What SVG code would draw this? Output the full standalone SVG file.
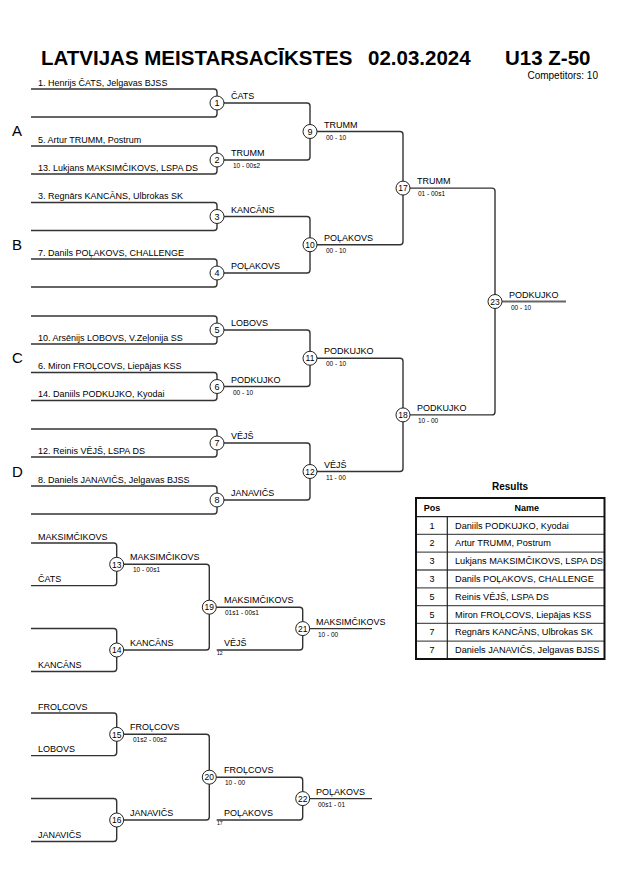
<svg xmlns="http://www.w3.org/2000/svg" width="630" height="891" viewBox="0 0 630 891">
<style>
text{font-family:"Liberation Sans",Arial,sans-serif;fill:#000}
.t{font-size:20.5px;font-weight:bold}
.n{font-size:9px}
.w{font-size:9px}
.s{font-size:6.5px}
.xs{font-size:5px}
.p{font-size:15px}
.num{font-size:9px;text-anchor:middle}
.ln{fill:none;stroke:#333;stroke-width:1.4}
.c{fill:#fff;stroke:#222;stroke-width:1}
.h{font-size:9px;font-weight:bold;text-anchor:middle}
.rc{font-size:9px;text-anchor:middle}
.rn{font-size:9.2px}
.row{stroke:#555;stroke-width:1.3}
</style>
<rect width="630" height="891" fill="#fff"/>
<g id="title">
<text class="t" x="41" y="65">LATVIJAS MEISTARSACĪKSTES</text>
<text class="t" x="368" y="65">02.03.2024</text>
<text class="t" x="505" y="65">U13 Z-50</text>
<text x="598" y="79" style="font-size:10px" text-anchor="end">Competitors: 10</text>
</g>
<g id="pools">
<text class="p" x="12" y="136">A</text>
<text class="p" x="12" y="250">B</text>
<text class="p" x="12" y="363">C</text>
<text class="p" x="12" y="477">D</text>
</g>
<g id="connectors">
<path class="ln" d="M31,89 H214 Q217,89 217,92 V114 Q217,117 214,117 H31"/>
<path class="ln" d="M31,146 H214 Q217,146 217,149 V171 Q217,174 214,174 H31"/>
<path class="ln" d="M31,202.5 H214 Q217,202.5 217,205.5 V227.5 Q217,230.5 214,230.5 H31"/>
<path class="ln" d="M31,259 H214 Q217,259 217,262 V284 Q217,287 214,287 H31"/>
<path class="ln" d="M31,316 H214 Q217,316 217,319 V341 Q217,344 214,344 H31"/>
<path class="ln" d="M31,372.5 H214 Q217,372.5 217,375.5 V397.5 Q217,400.5 214,400.5 H31"/>
<path class="ln" d="M31,429 H214 Q217,429 217,432 V454 Q217,457 214,457 H31"/>
<path class="ln" d="M31,486 H214 Q217,486 217,489 V511 Q217,514 214,514 H31"/>
<path class="ln" d="M217,103 H307 Q310,103 310,106 V157 Q310,160 307,160 H217"/>
<path class="ln" d="M217,216.5 H307 Q310,216.5 310,219.5 V270 Q310,273 307,273 H217"/>
<path class="ln" d="M217,330 H307 Q310,330 310,333 V383.5 Q310,386.5 307,386.5 H217"/>
<path class="ln" d="M217,443 H307 Q310,443 310,446 V497 Q310,500 307,500 H217"/>
<path class="ln" d="M310,131.5 H400 Q403,131.5 403,134.5 V241.75 Q403,244.75 400,244.75 H310"/>
<path class="ln" d="M310,358.25 H400 Q403,358.25 403,361.25 V468.5 Q403,471.5 400,471.5 H310"/>
<path class="ln" d="M403,188.1 H492 Q495,188.1 495,191.1 V411.9 Q495,414.9 492,414.9 H403"/>
<path class="ln" d="M495,301.5 H566" style="stroke:#666;stroke-width:2"/>
<path class="ln" d="M31,543 H113.7 Q116.7,543 116.7,546 V582.6 Q116.7,585.6 113.7,585.6 H31"/>
<path class="ln" d="M31,628.5 H113.7 Q116.7,628.5 116.7,631.5 V668.5 Q116.7,671.5 113.7,671.5 H31"/>
<path class="ln" d="M116.7,564.3 H206.3 Q209.3,564.3 209.3,567.3 V647 Q209.3,650 206.3,650 H116.7"/>
<path class="ln" d="M209.3,607.2 H299.7 Q302.7,607.2 302.7,610.2 V647 Q302.7,650 299.7,650 H216.7"/>
<path class="ln" d="M302.7,628.6 H372"/>
<path class="ln" d="M31,713 H113.7 Q116.7,713 116.7,716 V752.6 Q116.7,755.6 113.7,755.6 H31"/>
<path class="ln" d="M31,798.5 H113.7 Q116.7,798.5 116.7,801.5 V838.5 Q116.7,841.5 113.7,841.5 H31"/>
<path class="ln" d="M116.7,734.3 H206.3 Q209.3,734.3 209.3,737.3 V817 Q209.3,820 206.3,820 H116.7"/>
<path class="ln" d="M209.3,777.2 H299.7 Q302.7,777.2 302.7,780.2 V817 Q302.7,820 299.7,820 H216.7"/>
<path class="ln" d="M302.7,798.6 H372"/>
</g>
<g id="entries">
<text class="n" x="38" y="85.5">1. Henrijs ČATS, Jelgavas BJSS</text>
<text class="n" x="38" y="142.5">5. Artur TRUMM, Postrum</text>
<text class="n" x="38" y="170.5">13. Lukjans MAKSIMČIKOVS, LSPA DS</text>
<text class="n" x="38" y="199">3. Regnārs KANCĀNS, Ulbrokas SK</text>
<text class="n" x="38" y="255.5">7. Danils POĻAKOVS, CHALLENGE</text>
<text class="n" x="38" y="340.5">10. Arsēnijs LOBOVS, V.Zeļonija SS</text>
<text class="n" x="38" y="369">6. Miron FROĻCOVS, Liepājas KSS</text>
<text class="n" x="38" y="397">14. Daniils PODKUJKO, Kyodai</text>
<text class="n" x="38" y="453.5">12. Reinis VĒJŠ, LSPA DS</text>
<text class="n" x="38" y="482.5">8. Daniels JANAVIČS, Jelgavas BJSS</text>
<text class="n" x="38" y="539.5">MAKSIMČIKOVS</text>
<text class="n" x="38" y="582">ČATS</text>
<text class="n" x="38" y="668">KANCĀNS</text>
<text class="n" x="38" y="709.5">FROĻCOVS</text>
<text class="n" x="38" y="752">LOBOVS</text>
<text class="n" x="38" y="838">JANAVIČS</text>
</g>
<g id="m1"><circle class="c" cx="217" cy="103" r="7"/><text class="num" x="217" y="106.2">1</text><text class="w" x="231" y="99">ČATS</text></g>
<g id="m2"><circle class="c" cx="217" cy="160" r="7"/><text class="num" x="217" y="163.2">2</text><text class="w" x="231" y="156">TRUMM</text><text class="s" x="233" y="168">10 - 00s2</text></g>
<g id="m3"><circle class="c" cx="217" cy="216.5" r="7"/><text class="num" x="217" y="219.7">3</text><text class="w" x="231" y="212.5">KANCĀNS</text></g>
<g id="m4"><circle class="c" cx="217" cy="273" r="7"/><text class="num" x="217" y="276.2">4</text><text class="w" x="231" y="269">POĻAKOVS</text></g>
<g id="m5"><circle class="c" cx="217" cy="330" r="7"/><text class="num" x="217" y="333.2">5</text><text class="w" x="231" y="326">LOBOVS</text></g>
<g id="m6"><circle class="c" cx="217" cy="386.5" r="7"/><text class="num" x="217" y="389.7">6</text><text class="w" x="231" y="382.5">PODKUJKO</text><text class="s" x="233" y="394.5">00 - 10</text></g>
<g id="m7"><circle class="c" cx="217" cy="443" r="7"/><text class="num" x="217" y="446.2">7</text><text class="w" x="231" y="439">VĒJŠ</text></g>
<g id="m8"><circle class="c" cx="217" cy="500" r="7"/><text class="num" x="217" y="503.2">8</text><text class="w" x="231" y="496">JANAVIČS</text></g>
<g id="m9"><circle class="c" cx="310" cy="131.5" r="7"/><text class="num" x="310" y="134.7">9</text><text class="w" x="324" y="127.5">TRUMM</text><text class="s" x="326" y="139.5">00 - 10</text></g>
<g id="m10"><circle class="c" cx="310" cy="244.75" r="7"/><text class="num" x="310" y="247.95" style="font-size:8.5px">10</text><text class="w" x="324" y="240.75">POĻAKOVS</text><text class="s" x="326" y="252.75">00 - 10</text></g>
<g id="m11"><circle class="c" cx="310" cy="358.25" r="7"/><text class="num" x="310" y="361.45" style="font-size:8.5px">11</text><text class="w" x="324" y="354.25">PODKUJKO</text><text class="s" x="326" y="366.25">00 - 10</text></g>
<g id="m12"><circle class="c" cx="310" cy="471.5" r="7"/><text class="num" x="310" y="474.7" style="font-size:8.5px">12</text><text class="w" x="324" y="467.5">VĒJŠ</text><text class="s" x="326" y="479.5">11 - 00</text></g>
<g id="m17"><circle class="c" cx="403" cy="188.1" r="7"/><text class="num" x="403" y="191.3" style="font-size:8.5px">17</text><text class="w" x="417" y="184.1">TRUMM</text><text class="s" x="418" y="196.1">01 - 00s1</text></g>
<g id="m18"><circle class="c" cx="403" cy="414.9" r="7"/><text class="num" x="403" y="418.1" style="font-size:8.5px">18</text><text class="w" x="417" y="410.9">PODKUJKO</text><text class="s" x="418" y="422.9">10 - 00</text></g>
<g id="m23"><circle class="c" cx="495" cy="301.5" r="7"/><text class="num" x="495" y="304.7" style="font-size:8.5px">23</text><text class="w" x="509" y="297.5">PODKUJKO</text><text class="s" x="511" y="309.5">00 - 10</text></g>
<g id="m13"><circle class="c" cx="116.7" cy="564.3" r="7"/><text class="num" x="116.7" y="567.5" style="font-size:8.5px">13</text><text class="w" x="130" y="560.3">MAKSIMČIKOVS</text><text class="s" x="133" y="572.3">10 - 00s1</text></g>
<g id="m14"><circle class="c" cx="116.7" cy="650" r="7"/><text class="num" x="116.7" y="653.2" style="font-size:8.5px">14</text><text class="w" x="130" y="646">KANCĀNS</text></g>
<g id="m19"><circle class="c" cx="209.3" cy="607.2" r="7"/><text class="num" x="209.3" y="610.4" style="font-size:8.5px">19</text><text class="w" x="224" y="603.2">MAKSIMČIKOVS</text><text class="s" x="225" y="615.2">01s1 - 00s1</text><text class="w" x="224" y="646">VĒJŠ</text><text class="xs" x="217" y="655">12</text></g>
<g id="m21"><circle class="c" cx="302.7" cy="628.6" r="7"/><text class="num" x="302.7" y="631.8" style="font-size:8.5px">21</text><text class="w" x="316" y="624.6">MAKSIMČIKOVS</text><text class="s" x="318" y="636.6">10 - 00</text></g>
<g id="m15"><circle class="c" cx="116.7" cy="734.3" r="7"/><text class="num" x="116.7" y="737.5" style="font-size:8.5px">15</text><text class="w" x="130" y="730.3">FROĻCOVS</text><text class="s" x="133" y="742.3">01s2 - 00s2</text></g>
<g id="m16"><circle class="c" cx="116.7" cy="820" r="7"/><text class="num" x="116.7" y="823.2" style="font-size:8.5px">16</text><text class="w" x="130" y="816">JANAVIČS</text></g>
<g id="m20"><circle class="c" cx="209.3" cy="777.2" r="7"/><text class="num" x="209.3" y="780.4" style="font-size:8.5px">20</text><text class="w" x="224" y="773.2">FROĻCOVS</text><text class="s" x="225" y="785.2">10 - 00</text><text class="w" x="224" y="816">POĻAKOVS</text><text class="xs" x="217" y="825">17</text></g>
<g id="m22"><circle class="c" cx="302.7" cy="798.6" r="7"/><text class="num" x="302.7" y="801.8" style="font-size:8.5px">22</text><text class="w" x="316" y="794.6">POĻAKOVS</text><text class="s" x="318" y="806.6">00s1 - 01</text></g>
<g id="results">
<text x="510" y="490" style="font-size:10px;font-weight:bold" text-anchor="middle">Results</text>
<line class="row" x1="416" y1="534.4" x2="604" y2="534.4"/>
<line class="row" x1="416" y1="552.2" x2="604" y2="552.2"/>
<line class="row" x1="416" y1="570" x2="604" y2="570"/>
<line class="row" x1="416" y1="587.8" x2="604" y2="587.8"/>
<line class="row" x1="416" y1="605.6" x2="604" y2="605.6"/>
<line class="row" x1="416" y1="623.4" x2="604" y2="623.4"/>
<line class="row" x1="416" y1="641.2" x2="604" y2="641.2"/>
<line x1="416" y1="516.6" x2="604" y2="516.6" stroke="#222" stroke-width="1.3"/>
<line x1="447.3" y1="516.6" x2="447.3" y2="659" stroke="#222" stroke-width="1.2"/>
<rect x="416" y="498" width="188.5" height="161" fill="none" stroke="#111" stroke-width="2"/>
<text class="h" x="432" y="511">Pos</text>
<text class="h" x="526.7" y="511">Name</text>
<text class="rc" x="432" y="528.6">1</text><text class="rn" x="455" y="528.6">Daniils PODKUJKO, Kyodai</text>
<text class="rc" x="432" y="546.4">2</text><text class="rn" x="455" y="546.4">Artur TRUMM, Postrum</text>
<text class="rc" x="432" y="564.2">3</text><text class="rn" x="455" y="564.2">Lukjans MAKSIMČIKOVS, LSPA DS</text>
<text class="rc" x="432" y="582">3</text><text class="rn" x="455" y="582">Danils POĻAKOVS, CHALLENGE</text>
<text class="rc" x="432" y="599.8">5</text><text class="rn" x="455" y="599.8">Reinis VĒJŠ, LSPA DS</text>
<text class="rc" x="432" y="617.6">5</text><text class="rn" x="455" y="617.6">Miron FROĻCOVS, Liepājas KSS</text>
<text class="rc" x="432" y="635.4">7</text><text class="rn" x="455" y="635.4">Regnārs KANCĀNS, Ulbrokas SK</text>
<text class="rc" x="432" y="653.2">7</text><text class="rn" x="455" y="653.2">Daniels JANAVIČS, Jelgavas BJSS</text>
</g>
</svg>
